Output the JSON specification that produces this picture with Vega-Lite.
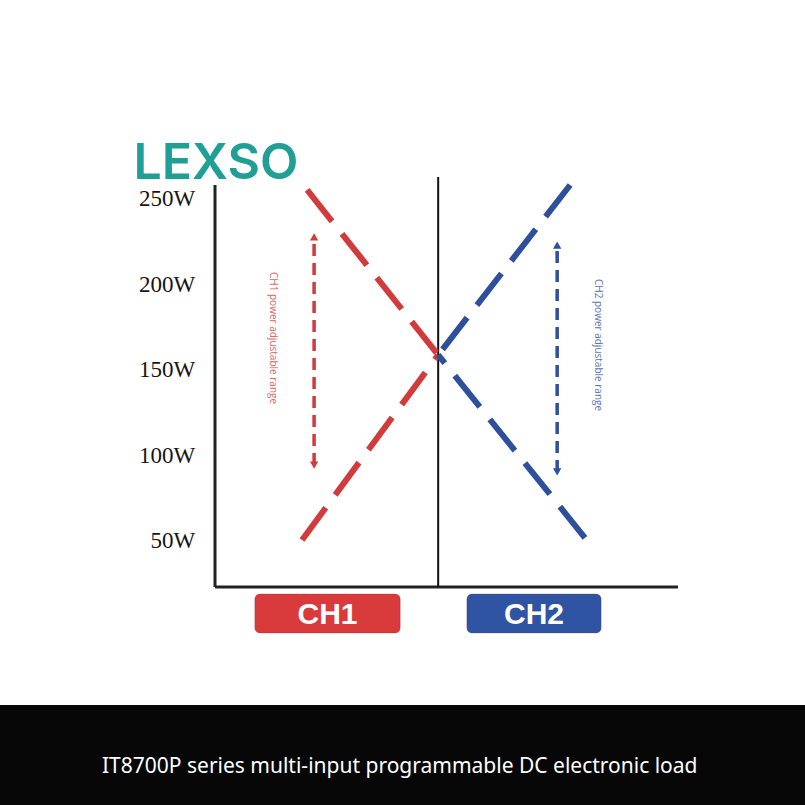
{
  "$schema": "https://vega.github.io/schema/vega-lite/v6.json",
  "width": 805,
  "height": 805,
  "autosize": {"type": "fit", "contains": "padding"},
  "padding": 0,
  "background": "#ffffff",
  "config": {"view": {"stroke": null}},
  "datasets": {
    "lines": [
      {"segment": "CH1 high", "channel": "CH1", "step": 1, "x": 19.9, "power": 255.3},
      {"segment": "CH1 high", "channel": "CH1", "step": 2, "x": 48.2, "power": 158.8},
      {"segment": "CH1 low", "channel": "CH1", "step": 1, "x": 18.8, "power": 50.6},
      {"segment": "CH1 low", "channel": "CH1", "step": 2, "x": 48.2, "power": 158.8},
      {"segment": "CH2 high", "channel": "CH2", "step": 1, "x": 76.7, "power": 258.2},
      {"segment": "CH2 high", "channel": "CH2", "step": 2, "x": 48.2, "power": 158.8},
      {"segment": "CH2 low", "channel": "CH2", "step": 1, "x": 79.9, "power": 51.8},
      {"segment": "CH2 low", "channel": "CH2", "step": 2, "x": 48.2, "power": 158.8}
    ],
    "ranges": [
      {"channel": "CH1", "x": 21.4, "lo": 94.4, "hi": 227.8, "labelX": 12.6, "labelY": 168.7, "label": "CH1 power adjustable range"},
      {"channel": "CH2", "x": 73.9, "lo": 90.4, "hi": 223.1, "labelX": 82.7, "labelY": 164.6, "label": "CH2 power adjustable range"}
    ],
    "ticks": [
      {"label": "250W", "power": 250},
      {"label": "200W", "power": 200},
      {"label": "150W", "power": 150},
      {"label": "100W", "power": 100},
      {"label": "50W", "power": 50}
    ],
    "boxes": [
      {"channel": "CH1", "x1": 8.6, "x2": 40.0, "mid": 24.3},
      {"channel": "CH2", "x1": 54.4, "x2": 83.4, "mid": 68.9}
    ]
  },
  "layer": [
    {
      "data": {"values": [{}]},
      "mark": {"type": "rect", "fill": "#070707"},
      "encoding": {
        "x": {"datum": -46.44, "type": "quantitative", "scale": {"domain": [-46.44, 127.43], "nice": false, "zero": false}, "axis": null},
        "x2": {"datum": 127.43},
        "y": {"datum": -45.9, "type": "quantitative", "scale": {"domain": [-104.4, 366.4], "nice": false, "zero": false}, "axis": null},
        "y2": {"datum": -104.4}
      }
    },
    {
      "data": {"values": [{"caption": "IT8700P series multi-input programmable DC electronic load"}]},
      "mark": {"type": "text", "color": "#ffffff", "font": "Noto Sans", "fontSize": 21, "align": "center", "baseline": "middle"},
      "encoding": {
        "x": {"datum": 39.9, "type": "quantitative"},
        "y": {"datum": -82.2, "type": "quantitative"},
        "text": {"field": "caption"}
      }
    },
    {
      "data": {"name": "ticks"},
      "mark": {"type": "text", "font": "Liberation Serif", "fontSize": 23, "color": "#151515", "align": "right", "baseline": "middle"},
      "encoding": {
        "x": {"datum": -4.3, "type": "quantitative"},
        "y": {"field": "power", "type": "quantitative"},
        "text": {"field": "label"}
      }
    },
    {
      "data": {"values": [{"x": 0, "x2": 0, "y": 23.1, "y2": 258.2}, {"x": 0, "x2": 100, "y": 23.1, "y2": 23.1}]},
      "mark": {"type": "rule", "color": "#222222", "strokeWidth": 3},
      "encoding": {
        "x": {"field": "x", "type": "quantitative"},
        "x2": {"field": "x2"},
        "y": {"field": "y", "type": "quantitative"},
        "y2": {"field": "y2"}
      }
    },
    {
      "data": {"values": [{}]},
      "mark": {"type": "rule", "color": "#111111", "strokeWidth": 2},
      "encoding": {
        "x": {"datum": 48.2, "type": "quantitative"},
        "y": {"datum": 23.1, "type": "quantitative"},
        "y2": {"datum": 262.9}
      }
    },
    {
      "data": {"name": "lines"},
      "mark": {"type": "line", "strokeWidth": 6, "strokeDash": [40, 16], "strokeCap": "butt"},
      "encoding": {
        "x": {"field": "x", "type": "quantitative"},
        "y": {"field": "power", "type": "quantitative"},
        "order": {"field": "step"},
        "detail": {"field": "segment"},
        "color": {"field": "channel", "type": "nominal", "scale": {"domain": ["CH1", "CH2"], "range": ["#d23b3b", "#2e4f9c"]}, "legend": null}
      }
    },
    {
      "data": {"name": "ranges"},
      "layer": [
        {
          "mark": {"type": "rule", "strokeWidth": 3.5, "strokeDash": [12, 7]},
          "encoding": {
            "x": {"field": "x", "type": "quantitative"},
            "y": {"field": "lo", "type": "quantitative"},
            "y2": {"field": "hi"},
            "color": {"field": "channel", "type": "nominal", "legend": null}
          }
        },
        {
          "mark": {"type": "point", "shape": "triangle-up", "filled": true, "size": 70, "opacity": 1},
          "encoding": {
            "x": {"field": "x", "type": "quantitative"},
            "y": {"field": "hi", "type": "quantitative"},
            "color": {"field": "channel", "type": "nominal", "legend": null}
          }
        },
        {
          "mark": {"type": "point", "shape": "triangle-down", "filled": true, "size": 70, "opacity": 1},
          "encoding": {
            "x": {"field": "x", "type": "quantitative"},
            "y": {"field": "lo", "type": "quantitative"},
            "color": {"field": "channel", "type": "nominal", "legend": null}
          }
        },
        {
          "mark": {"type": "text", "angle": 90, "fontSize": 10, "font": "Open Sans", "align": "center", "baseline": "middle", "opacity": 0.8},
          "encoding": {
            "x": {"field": "labelX", "type": "quantitative"},
            "y": {"field": "labelY", "type": "quantitative"},
            "text": {"field": "label"},
            "color": {"field": "channel", "type": "nominal", "legend": null}
          }
        }
      ]
    },
    {
      "data": {"name": "boxes"},
      "layer": [
        {
          "mark": {"type": "rect", "cornerRadius": 5, "stroke": "#7a2a2a", "strokeOpacity": 0.25, "strokeWidth": 1},
          "encoding": {
            "x": {"field": "x1", "type": "quantitative"},
            "x2": {"field": "x2"},
            "y": {"datum": 19.0, "type": "quantitative"},
            "y2": {"datum": -3.8},
            "fill": {"field": "channel", "type": "nominal", "scale": {"domain": ["CH1", "CH2"], "range": ["#d93a3b", "#2f54a3"]}, "legend": null}
          }
        },
        {
          "mark": {"type": "text", "color": "#ffffff", "font": "Liberation Sans", "fontWeight": "bold", "fontSize": 30, "align": "center", "baseline": "middle", "dy": 1},
          "encoding": {
            "x": {"field": "mid", "type": "quantitative"},
            "y": {"datum": 7.3, "type": "quantitative"},
            "text": {"field": "channel"}
          }
        }
      ]
    },
    {
      "data": {"values": [{"brand": "LEXSO"}]},
      "mark": {"type": "text", "color": "#1f9f95", "font": "Inter", "fontWeight": 600, "fontSize": 50, "align": "center", "baseline": "middle"},
      "encoding": {
        "x": {"datum": 0.2, "type": "quantitative"},
        "y": {"datum": 270.5, "type": "quantitative"},
        "text": {"field": "brand"}
      }
    }
  ]
}
